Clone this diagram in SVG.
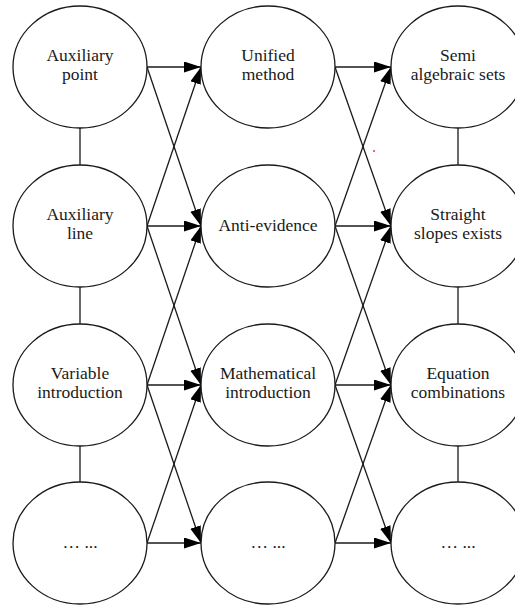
<svg xmlns="http://www.w3.org/2000/svg" width="515" height="605" viewBox="0 0 515 605" font-family="Liberation Serif, serif">
<style>
.n ellipse{fill:#fff;stroke:#1a1a1a;stroke-width:1.3}
.n text{font-size:17.5px;fill:#1a1a1a;text-anchor:middle}
.c line{stroke:#1a1a1a;stroke-width:1.3}
.c line.a{marker-end:url(#ah)}
</style>
<defs>
<marker id="ah" markerUnits="userSpaceOnUse" markerWidth="18" markerHeight="12" refX="17" refY="5.5" orient="auto" viewBox="0 0 18 12">
<path d="M0,0 L17,5.5 L0,11 z" fill="#000"/>
</marker>
</defs>
<rect width="515" height="605" fill="#fff"/>
<g class="c" id="connectors">
<line x1="80" y1="128" x2="80" y2="165"/>
<line x1="80" y1="287" x2="80" y2="324"/>
<line x1="80" y1="446" x2="80" y2="482"/>
<line x1="458" y1="128" x2="458" y2="165"/>
<line x1="458" y1="287" x2="458" y2="324"/>
<line x1="458" y1="446" x2="458" y2="482"/>
<line class="a" x1="147" y1="67" x2="201" y2="67"/>
<line class="a" x1="147" y1="67" x2="201" y2="226"/>
<line class="a" x1="147" y1="226" x2="201" y2="67"/>
<line class="a" x1="147" y1="226" x2="201" y2="226"/>
<line class="a" x1="147" y1="226" x2="201" y2="385"/>
<line class="a" x1="147" y1="385" x2="201" y2="226"/>
<line class="a" x1="147" y1="385" x2="201" y2="385"/>
<line class="a" x1="147" y1="385" x2="201" y2="543"/>
<line class="a" x1="147" y1="543" x2="201" y2="385"/>
<line class="a" x1="147" y1="543" x2="201" y2="543"/>
<line class="a" x1="335" y1="67" x2="391" y2="67"/>
<line class="a" x1="335" y1="67" x2="391" y2="226"/>
<line class="a" x1="335" y1="226" x2="391" y2="67"/>
<line class="a" x1="335" y1="226" x2="391" y2="226"/>
<line class="a" x1="335" y1="226" x2="391" y2="385"/>
<line class="a" x1="335" y1="385" x2="391" y2="226"/>
<line class="a" x1="335" y1="385" x2="391" y2="385"/>
<line class="a" x1="335" y1="385" x2="391" y2="543"/>
<line class="a" x1="335" y1="543" x2="391" y2="385"/>
<line class="a" x1="335" y1="543" x2="391" y2="543"/>
</g>
<g class="n" id="auxiliary-point"><ellipse cx="80" cy="67" rx="67" ry="61"/><text x="80" y="61">Auxiliary</text><text x="80" y="80">point</text></g>
<g class="n" id="auxiliary-line"><ellipse cx="80" cy="226" rx="67" ry="61"/><text x="80" y="220">Auxiliary</text><text x="80" y="239">line</text></g>
<g class="n" id="variable-introduction"><ellipse cx="80" cy="385" rx="67" ry="61"/><text x="80" y="379">Variable</text><text x="80" y="398">introduction</text></g>
<g class="n" id="etc-1"><ellipse cx="80" cy="543" rx="67" ry="61"/><text x="80" y="548">… ...</text></g>
<g class="n" id="unified-method"><ellipse cx="268" cy="67" rx="67" ry="61"/><text x="268" y="61">Unified</text><text x="268" y="80">method</text></g>
<g class="n" id="anti-evidence"><ellipse cx="268" cy="226" rx="67" ry="61"/><text x="268" y="231">Anti-evidence</text></g>
<g class="n" id="mathematical-introduction"><ellipse cx="268" cy="385" rx="67" ry="61"/><text x="268" y="379">Mathematical</text><text x="268" y="398">introduction</text></g>
<g class="n" id="etc-2"><ellipse cx="268" cy="543" rx="67" ry="61"/><text x="268" y="548">… ...</text></g>
<g class="n" id="semi-algebraic-sets"><ellipse cx="458" cy="67" rx="67" ry="61"/><text x="458" y="61">Semi</text><text x="458" y="80">algebraic sets</text></g>
<g class="n" id="straight-slopes-exists"><ellipse cx="458" cy="226" rx="67" ry="61"/><text x="458" y="220">Straight</text><text x="458" y="239">slopes exists</text></g>
<g class="n" id="equation-combinations"><ellipse cx="458" cy="385" rx="67" ry="61"/><text x="458" y="379">Equation</text><text x="458" y="398">combinations</text></g>
<g class="n" id="etc-3"><ellipse cx="458" cy="543" rx="67" ry="61"/><text x="458" y="548">… ...</text></g>
<circle cx="374" cy="151" r="1" fill="#e33"/>
</svg>
